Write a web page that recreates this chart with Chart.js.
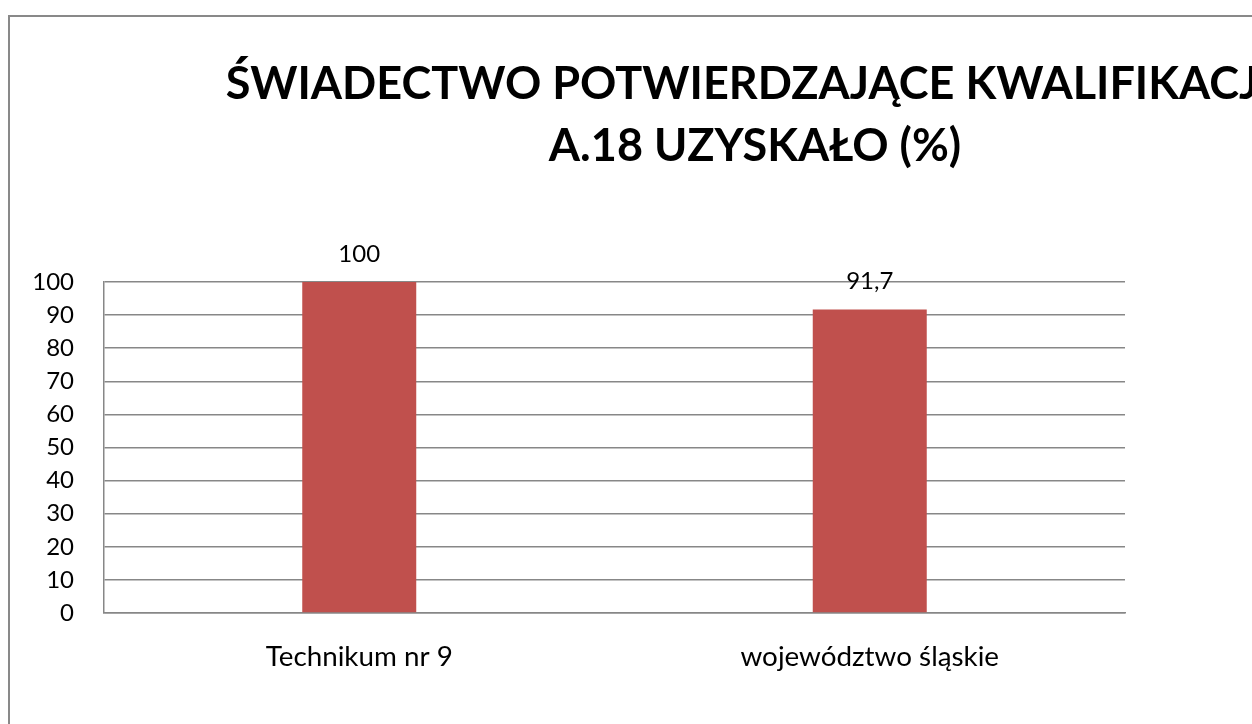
<!DOCTYPE html>
<html><head><meta charset="utf-8">
<script src="https://cdn.jsdelivr.net/npm/chart.js@4/dist/chart.umd.min.js"></script>
<style>
html,body{margin:0;padding:0;background:#fff;overflow:hidden;width:1252px;height:724px;position:relative;}
#frame{position:absolute;left:8px;top:15px;width:1700px;height:900px;border-left:2px solid #898989;border-top:2px solid #898989;box-sizing:content-box;}
#wrap{position:absolute;left:10px;top:17px;width:1490px;height:707px;}
</style></head><body>
<div id="frame"></div>
<div id="wrap"><canvas id="c" width="1490" height="707"></canvas></div>
<script>
const categories = ["Technikum nr 9", "województwo śląskie"];
const values = [100, 91.7];
const valueLabels = ["100", "91,7"];
const titleLines = ["ŚWIADECTWO POTWIERDZAJĄCE KWALIFIKACJĘ", "A.18 UZYSKAŁO (%)"];
const yMin = 0, yMax = 100, yStep = 10;

const FONT = "Lato, 'Open Sans', sans-serif";
const GRID = "#878787";

const valueLabelPlugin = {
  id: "valueLabels",
  afterDatasetsDraw(chart) {
    const ctx = chart.ctx;
    const meta = chart.getDatasetMeta(0);
    ctx.save();
    ctx.font = "24px " + FONT;
    ctx.fillStyle = "#000";
    ctx.textAlign = "center";
    ctx.textBaseline = "alphabetic";
    meta.data.forEach((bar, i) => {
      ctx.fillText(valueLabels[i], bar.x, bar.y - 20);
    });
    ctx.restore();
  }
};

new Chart(document.getElementById("c"), {
  type: "bar",
  data: {
    labels: categories,
    datasets: [{
      data: values,
      backgroundColor: "#C0504D",
      borderWidth: 0,
      categoryPercentage: 1,
      barPercentage: 0.2233
    }]
  },
  options: {
    responsive: false,
    animation: false,
    devicePixelRatio: 1,
    layout: { padding: 0 },
    plugins: {
      legend: { display: false },
      tooltip: { enabled: false },
      title: {
        display: true,
        text: titleLines,
        color: "#000",
        font: { family: FONT, size: 45, weight: "bold", lineHeight: 62 / 45 },
        padding: { top: 36, bottom: 105 }
      }
    },
    scales: {
      x: {
        grid: { display: false, drawTicks: false },
        border: { display: true, color: GRID, width: 1.5 },
        ticks: { color: "#000", font: { family: FONT, size: 27.8 }, padding: 27, maxRotation: 0 },
        afterFit(scale) { scale.height = 111; }
      },
      y: {
        min: yMin, max: yMax,
        grid: { color: GRID, lineWidth: 1.5, drawTicks: false },
        border: { display: true, color: GRID, width: 1.5 },
        ticks: { stepSize: yStep, color: "#000", font: { family: FONT, size: 24 }, padding: 30 },
        afterFit(scale) { scale.width = 94; }
      },
      yRight: {
        position: "right",
        min: yMin, max: yMax,
        grid: { display: false, drawTicks: false },
        border: { display: false },
        ticks: { display: false },
        afterFit(scale) { scale.width = 375; }
      }
    }
  },
  plugins: [valueLabelPlugin]
});
</script>
</body></html>
